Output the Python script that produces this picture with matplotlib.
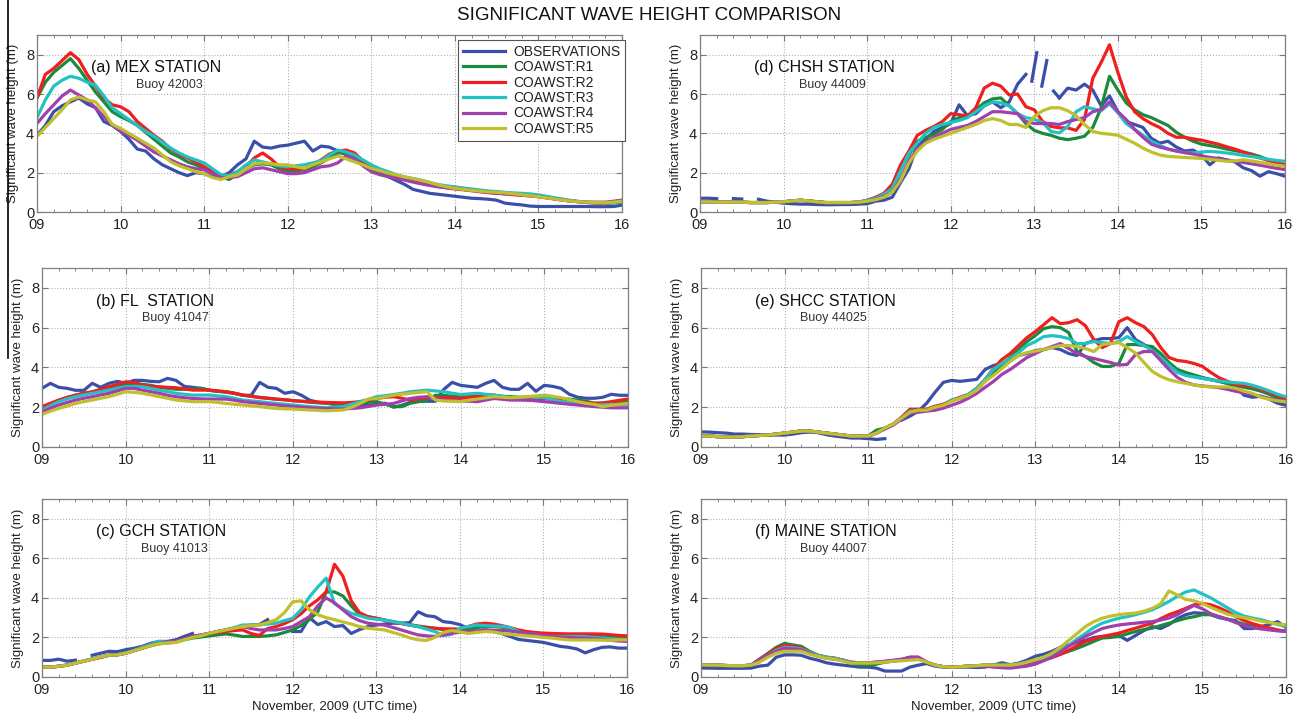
import numpy as np
import matplotlib
matplotlib.use('Agg')
import matplotlib.pyplot as plt
from matplotlib.lines import Line2D
from matplotlib.ticker import MultipleLocator

plt.rcParams['font.family'] = ['Liberation Sans', 'DejaVu Sans']

nan = np.nan
# samples every 0.1 day from 09 Nov to 16 Nov
days = np.round(np.arange(90, 161) / 10.0, 1)

# ---------------- (a) MEX STATION ----------------
a_obs = [3.9, 4.4, 5.1, 5.4, 5.6, 5.8, 5.5, 5.3, 4.6, 4.4,
         4.1, 3.7, 3.2, 3.1, 2.7, 2.4, 2.2, 2.0, 1.85, 2.0,
         1.95, 1.8, 1.8, 2.0, 2.4, 2.7, 3.6, 3.3, 3.25, 3.35,
         3.4, 3.5, 3.6, 3.1, 3.35, 3.3, 3.1, 2.9, 2.65, 2.4,
         2.15, 2.0, 1.8, 1.6, 1.4, 1.15, 1.05, 0.95, 0.9, 0.85,
         0.8, 0.75, 0.7, 0.68, 0.65, 0.6, 0.45, 0.4, 0.36, 0.3,
         0.28, 0.28, 0.28, 0.28, 0.28, 0.28, 0.28, 0.27, 0.27, 0.28,
         0.35]
a_r1 = [5.8, 6.6, 7.1, 7.45, 7.8, 7.3, 6.7, 6.1, 5.6, 5.1,
        4.85, 4.65, 4.4, 4.05, 3.7, 3.35, 3.0, 2.8, 2.55, 2.4,
        2.2, 2.0, 1.8, 1.65, 1.95, 2.2, 2.4, 2.45, 2.4, 2.2,
        2.05, 2.1, 2.15, 2.3, 2.5, 2.75, 3.0, 3.0, 2.75, 2.45,
        2.2, 2.1, 1.95, 1.85, 1.72, 1.6, 1.5, 1.42, 1.35, 1.28,
        1.22, 1.18, 1.12, 1.08, 1.03, 1.0, 0.96, 0.93, 0.9, 0.85,
        0.8, 0.75, 0.68, 0.62, 0.56, 0.52, 0.48, 0.46, 0.44, 0.46,
        0.5]
a_r2 = [5.8, 7.0, 7.3, 7.7, 8.1, 7.75, 7.0, 6.4, 5.8, 5.45,
        5.35, 5.1, 4.6, 4.25, 3.9, 3.6, 3.2, 2.95, 2.75, 2.55,
        2.3, 2.05, 1.8, 1.9, 2.05, 2.3, 2.75, 3.0, 2.7, 2.3,
        2.2, 2.2, 2.2, 2.4, 2.65, 2.95, 3.1, 3.15, 3.0, 2.6,
        2.3, 2.15, 2.0, 1.85, 1.7, 1.58, 1.47, 1.38, 1.3, 1.23,
        1.17, 1.13, 1.08, 1.03, 0.98, 0.95, 0.92, 0.88, 0.85, 0.82,
        0.78, 0.72, 0.66, 0.6, 0.55, 0.52, 0.48, 0.46, 0.45, 0.5,
        0.6]
a_r3 = [4.8, 5.7, 6.4, 6.7, 6.9, 6.8, 6.6, 6.45, 5.9, 5.3,
        5.0, 4.7, 4.4, 4.1, 3.85, 3.55, 3.25, 3.0, 2.8, 2.65,
        2.5, 2.2, 1.9, 1.85, 2.05, 2.4, 2.65, 2.55, 2.45, 2.35,
        2.3, 2.35, 2.4, 2.5, 2.6, 2.9, 3.15, 3.05, 2.9, 2.65,
        2.4, 2.2, 2.05, 1.9, 1.78, 1.7, 1.62, 1.5, 1.4, 1.33,
        1.28, 1.22, 1.17, 1.12, 1.07, 1.04, 1.0, 0.97, 0.95, 0.92,
        0.87, 0.8, 0.72, 0.65, 0.58, 0.53, 0.5, 0.48, 0.47, 0.48,
        0.52]
a_r4 = [4.5, 5.0, 5.45, 5.9, 6.2, 5.95, 5.7, 5.3, 4.85, 4.45,
        4.1, 3.9, 3.65, 3.35, 3.05, 2.85, 2.65, 2.45, 2.3, 2.2,
        2.15, 1.95, 1.75, 1.75, 1.8, 2.0, 2.2, 2.25, 2.15, 2.05,
        1.95, 1.95, 2.0, 2.15, 2.3, 2.35, 2.5, 2.85, 2.7, 2.35,
        2.05, 1.9, 1.8, 1.7, 1.62, 1.52, 1.43, 1.35, 1.28, 1.23,
        1.2, 1.15, 1.1, 1.05, 1.0, 0.96, 0.93, 0.9, 0.86, 0.82,
        0.78, 0.72, 0.66, 0.6, 0.55, 0.52, 0.5, 0.5, 0.5, 0.55,
        0.6]
a_r5 = [3.85, 4.3, 4.75, 5.2, 5.7, 5.85, 5.7, 5.6, 5.1, 4.45,
        4.25, 4.0, 3.75, 3.5, 3.25, 2.9, 2.55, 2.35, 2.2, 2.05,
        1.95, 1.75, 1.65, 1.8, 1.88, 2.2, 2.45, 2.5, 2.45, 2.4,
        2.4, 2.3, 2.22, 2.4, 2.55, 2.7, 2.85, 2.7, 2.55, 2.4,
        2.22, 2.1, 1.98, 1.88, 1.78, 1.7, 1.6, 1.5, 1.38, 1.28,
        1.2, 1.15, 1.1, 1.06, 1.02, 1.0, 0.97, 0.93, 0.88, 0.83,
        0.78, 0.72, 0.66, 0.6, 0.55, 0.52, 0.5, 0.48, 0.47, 0.5,
        0.55]

# ---------------- (b) FL STATION ----------------
b_obs = [2.95, 3.2, 3.0, 2.95, 2.85, 2.85, 3.2, 3.0, 3.2, 3.3,
         3.2, 3.35, 3.35, 3.3, 3.28, 3.45, 3.35, 3.05, 3.0, 2.95,
         2.85, 2.8, 2.78, 2.7, 2.6, 2.6, 3.25, 3.0, 2.95, 2.7,
         2.78, 2.6, 2.35, 2.25, 2.2, 2.15, 2.1, 2.1, 2.1, 2.1,
         2.15, 2.2, 2.0, 2.1, 2.25, 2.3, 2.3, 2.3, 2.9, 3.25,
         3.1, 3.05, 3.0, 3.2, 3.35, 3.0, 2.9, 2.9, 3.2, 2.8,
         3.1, 3.05, 2.95, 2.65, 2.5, 2.45, 2.45, 2.5, 2.65, 2.6,
         2.6]
b_r1 = [1.95, 2.15, 2.35, 2.45, 2.6, 2.7, 2.75, 2.85, 2.95, 3.05,
        3.15, 3.2, 3.15, 3.1, 3.0, 2.95, 2.9, 2.9, 2.9, 2.95,
        2.85, 2.8, 2.75, 2.7, 2.6, 2.55, 2.5, 2.45, 2.4, 2.38,
        2.33, 2.3, 2.25, 2.22, 2.2, 2.15, 2.12, 2.15, 2.2, 2.25,
        2.28, 2.15, 2.03, 2.03, 2.2, 2.28, 2.36, 2.6, 2.6, 2.55,
        2.53, 2.6, 2.62, 2.62, 2.6, 2.55, 2.53, 2.5, 2.45, 2.45,
        2.48, 2.45, 2.44, 2.4, 2.36, 2.3, 2.2, 2.2, 2.2, 2.25,
        2.28]
b_r2 = [2.03, 2.2, 2.36, 2.5, 2.61, 2.7, 2.78, 2.9, 3.03, 3.15,
        3.28, 3.25, 3.11, 3.05, 3.03, 3.0, 2.98, 2.92, 2.86, 2.86,
        2.86, 2.82, 2.78, 2.7, 2.61, 2.55, 2.48, 2.45, 2.41, 2.37,
        2.33, 2.3, 2.28, 2.26, 2.24, 2.23, 2.22, 2.24, 2.28, 2.36,
        2.44, 2.5, 2.53, 2.45, 2.36, 2.42, 2.48, 2.48, 2.48, 2.46,
        2.44, 2.5, 2.53, 2.58, 2.61, 2.52, 2.44, 2.4, 2.36, 2.4,
        2.44, 2.4, 2.36, 2.32, 2.28, 2.24, 2.19, 2.22, 2.28, 2.35,
        2.41]
b_r3 = [1.86, 2.08, 2.28, 2.42, 2.53, 2.62, 2.7, 2.78, 2.86, 2.95,
        3.03, 3.05, 3.03, 2.95, 2.86, 2.78, 2.7, 2.65, 2.61, 2.61,
        2.61, 2.57, 2.53, 2.45, 2.36, 2.32, 2.28, 2.23, 2.19, 2.15,
        2.11, 2.07, 2.03, 2.0, 1.97, 2.0, 2.03, 2.15, 2.28, 2.4,
        2.53, 2.58, 2.64, 2.7, 2.78, 2.82, 2.86, 2.82, 2.78, 2.7,
        2.64, 2.67, 2.7, 2.65, 2.61, 2.55, 2.48, 2.5, 2.53, 2.5,
        2.48, 2.38, 2.28, 2.25, 2.19, 2.15, 2.11, 2.12, 2.14, 2.12,
        2.11]
b_r4 = [1.77, 1.95, 2.11, 2.24, 2.36, 2.45, 2.53, 2.62, 2.7, 2.82,
        2.95, 2.95, 2.86, 2.78, 2.7, 2.6, 2.53, 2.48, 2.44, 2.42,
        2.41, 2.41, 2.41, 2.35, 2.28, 2.24, 2.19, 2.15, 2.11, 2.07,
        2.03, 2.0, 1.97, 1.95, 1.94, 1.92, 1.91, 1.94, 1.97, 2.04,
        2.11, 2.15, 2.19, 2.32, 2.44, 2.5, 2.53, 2.45, 2.36, 2.33,
        2.31, 2.3, 2.28, 2.36, 2.44, 2.4, 2.36, 2.36, 2.36, 2.32,
        2.28, 2.24, 2.19, 2.15, 2.11, 2.07, 2.03, 2.0, 1.97, 1.97,
        1.97]
b_r5 = [1.64, 1.8, 1.94, 2.06, 2.19, 2.28, 2.36, 2.45, 2.53, 2.65,
        2.78, 2.75, 2.7, 2.62, 2.53, 2.45, 2.36, 2.32, 2.28, 2.28,
        2.28, 2.24, 2.19, 2.15, 2.11, 2.07, 2.03, 1.98, 1.94, 1.92,
        1.91, 1.88, 1.86, 1.84, 1.82, 1.84, 1.86, 2.0, 2.19, 2.41,
        2.44, 2.52, 2.61, 2.65, 2.7, 2.74, 2.78, 2.36, 2.31, 2.3,
        2.28, 2.35, 2.41, 2.47, 2.53, 2.5, 2.48, 2.5, 2.53, 2.57,
        2.61, 2.55, 2.48, 2.38, 2.28, 2.2, 2.14, 2.03, 2.1, 2.15,
        2.19]

# ---------------- (c) GCH STATION ----------------
c_obs = [0.84, 0.84, 0.9, 0.8, 0.85, nan, 1.1, 1.2, 1.3, 1.28,
         1.38, 1.45, 1.55, 1.7, 1.8, 1.8, 1.88, 2.05, 2.2, nan,
         2.2, 2.3, 2.38, 2.47, 2.55, 2.63, 2.65, 2.9, nan, nan,
         2.3, 2.3, 3.0, 2.65, 2.8, 2.55, 2.6, 2.2, 2.4, 2.55,
         2.63, 2.68, 2.72, 2.72, 2.75, 3.3, 3.1, 3.05, 2.8, 2.75,
         2.65, 2.45, 2.3, 2.38, 2.3, 2.2, 2.05, 1.9, 1.85, 1.8,
         1.75, 1.65, 1.55, 1.5, 1.42, 1.22, 1.38, 1.5, 1.52, 1.46,
         1.46]
c_r1 = [0.5, 0.5, 0.54, 0.6, 0.7, 0.8, 0.9, 1.0, 1.1, 1.12,
        1.2, 1.33, 1.46, 1.58, 1.68, 1.72, 1.76, 1.88, 1.97, 2.02,
        2.08, 2.13, 2.18, 2.12, 2.05, 2.05, 2.05, 2.08, 2.13, 2.25,
        2.38, 2.6, 2.9, 3.3, 4.3, 4.3, 4.1, 3.6, 3.15, 3.05,
        2.97, 2.88, 2.8, 2.72, 2.65, 2.58, 2.52, 2.47, 2.4, 2.35,
        2.3, 2.4, 2.5, 2.55, 2.55, 2.52, 2.4, 2.25, 2.2, 2.15,
        2.13, 2.12, 2.1, 2.1, 2.09, 2.08, 2.06, 2.04, 2.0, 1.98,
        1.96]
c_r2 = [0.5, 0.5, 0.54, 0.6, 0.7, 0.8, 0.9, 1.0, 1.1, 1.12,
        1.2, 1.33, 1.46, 1.6, 1.7, 1.75, 1.8, 1.92, 2.05, 2.12,
        2.2, 2.25, 2.3, 2.35, 2.38, 2.2, 2.1, 2.45, 2.55, 2.7,
        2.9, 3.2, 3.6, 3.9, 4.3, 5.7, 5.1, 3.85, 3.25, 3.05,
        2.97, 2.88, 2.78, 2.7, 2.62, 2.55, 2.5, 2.46, 2.44, 2.43,
        2.42, 2.55, 2.68, 2.72, 2.68, 2.6, 2.5, 2.38, 2.3, 2.25,
        2.22, 2.2, 2.19, 2.18, 2.18, 2.18, 2.18, 2.17, 2.14, 2.1,
        2.08]
c_r3 = [0.5, 0.5, 0.55, 0.62, 0.72, 0.82, 0.92, 1.02, 1.1, 1.13,
        1.22, 1.35, 1.5, 1.65, 1.8, 1.75, 1.8, 1.9, 2.02, 2.1,
        2.21, 2.3, 2.38, 2.5, 2.63, 2.63, 2.63, 2.68, 2.72, 2.85,
        2.97, 3.4, 4.05, 4.55, 5.0, 3.7, 3.45, 3.22, 3.1, 2.97,
        2.92, 2.88, 2.8, 2.72, 2.62, 2.55, 2.42, 2.3, 2.1, 2.15,
        2.47, 2.55, 2.63, 2.6, 2.58, 2.56, 2.5, 2.3, 2.13, 2.1,
        2.06, 2.05, 2.05, 2.05, 2.05, 2.04, 2.0, 1.97, 1.94, 1.9,
        1.88]
c_r4 = [0.5, 0.5, 0.54, 0.6, 0.7, 0.8, 0.9, 1.0, 1.1, 1.12,
        1.2, 1.33, 1.46, 1.6, 1.7, 1.75, 1.8, 1.92, 2.05, 2.12,
        2.21, 2.3, 2.38, 2.47, 2.55, 2.45, 2.38, 2.38, 2.38, 2.45,
        2.55, 2.8, 3.05, 3.6, 4.0, 3.75, 3.4, 3.05, 2.85, 2.72,
        2.67, 2.62, 2.5, 2.38, 2.25, 2.13, 2.08, 2.05, 2.12, 2.21,
        2.26, 2.3, 2.33, 2.38, 2.36, 2.35, 2.32, 2.28, 2.21, 2.18,
        2.1, 2.05, 2.02, 2.0, 1.98, 1.96, 1.94, 1.9, 1.86, 1.82,
        1.8]
c_r5 = [0.5, 0.5, 0.54, 0.6, 0.7, 0.8, 0.9, 1.02, 1.1, 1.12,
        1.2, 1.33, 1.46, 1.58, 1.68, 1.72, 1.75, 1.88, 2.0, 2.08,
        2.21, 2.3, 2.38, 2.47, 2.55, 2.6, 2.63, 2.75, 2.89, 3.25,
        3.8, 3.85, 3.4, 3.15, 3.0, 2.9, 2.78, 2.68, 2.55, 2.47,
        2.42, 2.38, 2.25, 2.13, 1.98, 1.88, 1.85, 2.0, 2.25, 2.35,
        2.28, 2.2, 2.25, 2.3, 2.28, 2.2, 2.15, 2.12, 2.08, 2.05,
        2.0, 1.97, 1.92, 1.88, 1.87, 1.87, 1.87, 1.86, 1.86, 1.88,
        1.88]

# ---------------- (d) CHSH STATION ----------------
d_obs = [0.7, 0.7, 0.68, nan, 0.68, 0.66, nan, 0.65, 0.55, 0.5,
         0.45, 0.42, 0.4, 0.4, 0.38, 0.37, 0.37, 0.38, 0.38, 0.4,
         0.42, 0.55, 0.6, 0.75, 1.5, 2.2, 3.4, 3.7, 4.1, 4.3,
         4.5, 5.45, 4.9, 5.0, 5.4, 5.6, 5.3, 5.6, 6.5, 7.0,
         nan, nan, nan, 5.8, 6.3, 6.2, 6.5, 6.2, 5.4, 5.9,
         5.1, 4.6, 4.45, 4.3, 3.75, 3.5, 3.6, 3.3, 3.1, 3.15,
         2.9, 2.4, 2.75, 2.65, 2.55, 2.25, 2.1, 1.82, 2.05, 1.95,
         1.82]
# short gappy pieces of the buoy record around 13 Nov
d_obs_gap_t = [12.97, 13.03, nan, 13.09, 13.15, nan, 13.23, 13.3]
d_obs_gap_v = [6.65, 8.1, nan, 6.4, 7.7, nan, 6.15, 5.8]
d_r1 = [0.52, 0.52, 0.5, 0.5, 0.5, 0.5, 0.48, 0.48, 0.48, 0.5,
        0.52, 0.56, 0.6, 0.56, 0.52, 0.48, 0.48, 0.48, 0.48, 0.5,
        0.58, 0.7, 0.85, 1.1, 2.2, 2.9, 3.6, 3.8, 3.95, 4.2,
        4.6, 4.8, 4.9, 5.2, 5.55, 5.75, 5.8, 5.4, 5.0, 4.5,
        4.15, 4.0, 3.9, 3.75, 3.68, 3.75, 3.85, 4.3, 5.3, 6.9,
        6.2, 5.55, 5.2, 4.95, 4.8, 4.6, 4.4, 4.05, 3.8, 3.6,
        3.45, 3.38, 3.3, 3.2, 3.12, 3.05, 2.95, 2.82, 2.65, 2.5,
        2.33]
d_r2 = [0.52, 0.52, 0.5, 0.5, 0.5, 0.5, 0.48, 0.48, 0.48, 0.5,
        0.52, 0.56, 0.6, 0.56, 0.52, 0.48, 0.48, 0.48, 0.48, 0.5,
        0.6, 0.75, 0.95, 1.4, 2.4, 3.1, 3.9, 4.15, 4.35, 4.6,
        5.0, 4.95, 4.87, 5.3, 6.3, 6.55, 6.4, 5.95, 6.0, 5.35,
        5.2, 4.6, 4.35, 4.28, 4.28, 4.15, 4.7, 6.8, 7.6, 8.5,
        7.1, 5.85, 5.1, 4.75, 4.5, 4.3, 4.0, 3.8, 3.8, 3.72,
        3.65, 3.55, 3.45, 3.32, 3.2, 3.05, 2.9, 2.75, 2.62, 2.5,
        2.41]
d_r3 = [0.52, 0.52, 0.5, 0.5, 0.5, 0.5, 0.48, 0.48, 0.48, 0.5,
        0.52, 0.56, 0.6, 0.56, 0.52, 0.48, 0.48, 0.48, 0.48, 0.5,
        0.6, 0.7, 0.9, 1.2, 2.1, 3.0, 3.5, 4.0, 4.3, 4.45,
        4.55, 4.65, 4.8, 5.1, 5.4, 5.6, 5.55, 5.4, 5.0, 4.8,
        4.72, 4.55, 4.1, 4.02, 4.35, 5.1, 5.35, 5.25, 5.15, 5.5,
        5.05, 4.5, 4.2, 3.9, 3.6, 3.4, 3.2, 3.1, 3.02, 3.0,
        3.05, 3.08, 3.05, 3.0, 2.95, 2.88, 2.82, 2.75, 2.68, 2.62,
        2.58]
d_r4 = [0.52, 0.52, 0.5, 0.5, 0.5, 0.5, 0.48, 0.48, 0.48, 0.5,
        0.52, 0.56, 0.6, 0.56, 0.52, 0.48, 0.48, 0.48, 0.48, 0.5,
        0.55, 0.65, 0.8, 1.0, 1.7, 2.6, 3.2, 3.55, 3.8, 4.0,
        4.2, 4.3, 4.4, 4.6, 4.85, 5.1, 5.1, 5.05, 5.0, 4.6,
        4.5, 4.5, 4.5, 4.45, 4.6, 4.7, 4.8, 5.1, 5.2, 5.6,
        5.1, 4.7, 4.2, 3.8, 3.45, 3.3, 3.2, 3.1, 3.02, 2.95,
        2.85, 2.78, 2.72, 2.65, 2.58, 2.52, 2.45, 2.38, 2.3, 2.22,
        2.16]
d_r5 = [0.52, 0.52, 0.5, 0.5, 0.5, 0.5, 0.48, 0.48, 0.48, 0.5,
        0.52, 0.56, 0.6, 0.56, 0.52, 0.48, 0.48, 0.48, 0.48, 0.5,
        0.55, 0.62, 0.75, 1.0, 1.6, 2.5, 3.1, 3.5, 3.7, 3.85,
        4.0, 4.15, 4.3, 4.45, 4.65, 4.75, 4.65, 4.45, 4.45, 4.3,
        4.85, 5.15, 5.3, 5.3, 5.15, 4.9, 4.45, 4.1, 4.0, 3.96,
        3.9, 3.7, 3.5, 3.25, 3.05, 2.9, 2.83, 2.8, 2.77, 2.75,
        2.72, 2.68, 2.63, 2.58, 2.6, 2.65, 2.6, 2.52, 2.45, 2.38,
        2.33]

# ---------------- (e) SHCC STATION ----------------
e_obs = [0.76, 0.75, 0.72, 0.7, 0.65, 0.65, 0.63, 0.62, 0.6, 0.6,
         0.6, 0.65, 0.72, 0.75, 0.72, 0.62, 0.55, 0.5, 0.45, 0.45,
         0.42, 0.38, 0.42, nan, 1.35, 1.55, 1.8, 2.2, 2.75, 3.25,
         3.35, 3.3, 3.35, 3.4, 3.9, 4.1, 4.2, 4.35, 4.6, 4.7,
         4.85, 4.9, 5.0, 4.9, 4.7, 4.6, 5.2, 5.35, 5.45, 5.45,
         5.5, 6.0, 5.4, 5.15, 4.9, 4.5, 4.15, 3.85, 3.65, 3.55,
         3.45, 3.4, 3.3, 3.2, 3.0, 2.6, 2.5, 2.55, 2.4, 2.2,
         2.1]
e_r1 = [0.55, 0.55, 0.52, 0.5, 0.5, 0.52, 0.55, 0.58, 0.6, 0.65,
        0.7, 0.75, 0.8, 0.8, 0.75, 0.7, 0.65, 0.6, 0.55, 0.55,
        0.55, 0.85, 0.95, 1.15, 1.45, 1.75, 1.85, 1.85, 2.0, 2.1,
        2.35, 2.45, 2.6, 2.9, 3.3, 3.75, 4.15, 4.5, 4.9, 5.3,
        5.6, 5.95, 6.05, 6.0, 5.75, 4.8, 4.55, 4.25, 4.05, 4.05,
        4.2, 5.15, 5.15, 5.1, 5.05, 4.7, 4.25, 3.9, 3.75, 3.62,
        3.5, 3.38, 3.3, 3.2, 3.08, 3.0, 2.92, 2.8, 2.65, 2.45,
        2.27]
e_r2 = [0.55, 0.55, 0.52, 0.5, 0.5, 0.52, 0.55, 0.58, 0.6, 0.65,
        0.7, 0.75, 0.82, 0.8, 0.75, 0.7, 0.65, 0.6, 0.55, 0.55,
        0.55, 0.7, 0.95, 1.15, 1.5, 1.9, 1.9, 1.9, 2.05, 2.15,
        2.35, 2.5, 2.65, 2.95, 3.4, 3.95, 4.4, 4.7, 5.1, 5.5,
        5.8, 6.15, 6.5, 6.2, 6.25, 6.4, 6.1, 5.4, 5.0, 5.2,
        6.3, 6.5, 6.25, 6.05, 5.65, 5.0, 4.5, 4.35, 4.3, 4.2,
        4.05, 3.75, 3.48, 3.3, 3.15, 3.08, 3.05, 2.9, 2.75, 2.58,
        2.43]
e_r3 = [0.55, 0.55, 0.52, 0.5, 0.5, 0.52, 0.55, 0.58, 0.6, 0.65,
        0.7, 0.75, 0.8, 0.8, 0.75, 0.7, 0.65, 0.6, 0.55, 0.55,
        0.55, 0.7, 0.95, 1.15, 1.45, 1.8, 1.85, 1.85, 2.0, 2.1,
        2.35, 2.45, 2.65, 2.95, 3.4, 3.9, 4.2, 4.45, 4.75, 5.1,
        5.3, 5.55, 5.6, 5.55, 5.45, 5.2, 5.2, 5.3, 5.25, 5.2,
        5.3, 5.55, 5.3, 5.1, 4.85, 4.5, 4.1, 3.75, 3.6, 3.52,
        3.45, 3.38, 3.32, 3.27, 3.23, 3.2, 3.1, 2.97, 2.82, 2.65,
        2.52]
e_r4 = [0.55, 0.55, 0.52, 0.5, 0.5, 0.52, 0.55, 0.58, 0.6, 0.65,
        0.7, 0.75, 0.8, 0.8, 0.75, 0.7, 0.65, 0.6, 0.55, 0.55,
        0.55, 0.7, 0.9, 1.1, 1.4, 1.7, 1.75, 1.8, 1.85, 1.95,
        2.1, 2.25, 2.45, 2.7, 3.0, 3.3, 3.65, 3.9, 4.2, 4.5,
        4.7, 4.9, 5.05, 5.2, 4.95, 4.7, 4.55, 4.45, 4.35, 4.25,
        4.12, 4.15, 4.65, 4.8, 4.8, 4.35, 3.9, 3.5, 3.25, 3.12,
        3.07, 3.03, 2.98, 2.9, 2.8, 2.72, 2.65, 2.55, 2.45, 2.35,
        2.27]
e_r5 = [0.55, 0.55, 0.52, 0.5, 0.5, 0.52, 0.55, 0.58, 0.6, 0.65,
        0.7, 0.75, 0.8, 0.8, 0.75, 0.7, 0.65, 0.6, 0.55, 0.55,
        0.55, 0.7, 0.95, 1.15, 1.45, 1.75, 1.85, 1.85, 2.0, 2.1,
        2.3, 2.45, 2.6, 2.85, 3.3, 3.6, 3.95, 4.3, 4.6, 4.75,
        4.82, 4.9, 5.0, 5.1, 5.1, 5.05, 4.95, 4.8, 5.15, 5.2,
        5.25, 5.0, 4.72, 4.25, 3.8, 3.55, 3.38, 3.28, 3.2, 3.12,
        3.05, 3.02, 3.02, 3.02, 2.95, 2.8, 2.7, 2.5, 2.4, 2.32,
        2.27]

# ---------------- (f) MAINE STATION ----------------
f_obs = [0.45, 0.45, 0.44, 0.44, 0.44, 0.44, 0.45, 0.55, 0.6, 1.0,
         1.12, 1.12, 1.1, 0.95, 0.85, 0.72, 0.65, 0.6, 0.55, 0.5,
         0.5, 0.45, 0.3, 0.3, 0.3, 0.5, 0.6, 0.68, 0.55, 0.5,
         0.5, 0.5, 0.5, 0.48, 0.5, 0.6, 0.72, 0.62, 0.7, 0.85,
         1.05, 1.15, 1.3, 1.5, 1.62, 1.75, 1.85, 2.0, 2.05, 2.05,
         2.1, 1.85, 2.1, 2.35, 2.55, 2.45, 2.65, 2.95, 3.15, 3.25,
         3.22, 3.15, 3.0, 2.92, 2.85, 2.45, 2.45, 2.55, 2.65, 2.8,
         2.5]
f_r1 = [0.62, 0.6, 0.6, 0.58, 0.57, 0.57, 0.6, 0.9, 1.2, 1.5,
        1.7, 1.62, 1.55, 1.3, 1.1, 1.0, 0.95, 0.85, 0.7, 0.6,
        0.58, 0.65, 0.75, 0.8, 0.85, 0.95, 0.95, 0.75, 0.6, 0.52,
        0.5, 0.52, 0.55, 0.57, 0.6, 0.6, 0.6, 0.6, 0.62, 0.7,
        0.8, 0.9, 1.0, 1.15, 1.3, 1.45, 1.62, 1.8, 1.97, 2.0,
        2.05, 2.18, 2.3, 2.4, 2.47, 2.6, 2.72, 2.85, 2.97, 3.05,
        3.15, 3.15, 3.05, 2.92, 2.8, 2.67, 2.58, 2.5, 2.42, 2.36,
        2.31]
f_r2 = [0.62, 0.6, 0.6, 0.58, 0.57, 0.57, 0.6, 0.9, 1.15, 1.45,
        1.6, 1.55, 1.48, 1.25, 1.1, 1.0, 0.95, 0.85, 0.75, 0.72,
        0.72, 0.75, 0.78, 0.82, 0.88, 1.0, 1.0, 0.75, 0.6, 0.52,
        0.5, 0.52, 0.55, 0.57, 0.6, 0.6, 0.6, 0.6, 0.62, 0.7,
        0.8, 0.88, 0.98, 1.15, 1.35, 1.58, 1.8, 1.93, 2.05, 2.13,
        2.22, 2.35, 2.47, 2.6, 2.72, 2.95, 3.15, 3.3, 3.47, 3.65,
        3.72, 3.65, 3.5, 3.3, 3.05, 2.85, 2.7, 2.58, 2.48, 2.38,
        2.31]
f_r3 = [0.62, 0.6, 0.6, 0.58, 0.57, 0.57, 0.6, 0.85, 1.1, 1.35,
        1.5, 1.48, 1.42, 1.25, 1.1, 1.0, 0.95, 0.85, 0.75, 0.72,
        0.72, 0.75, 0.78, 0.82, 0.85, 0.95, 0.95, 0.75, 0.6, 0.52,
        0.5, 0.52, 0.55, 0.57, 0.6, 0.6, 0.6, 0.6, 0.65, 0.75,
        0.85, 0.95, 1.1, 1.35, 1.6, 1.92, 2.2, 2.5, 2.72, 2.85,
        2.97, 3.05, 3.15, 3.27, 3.4, 3.6, 3.82, 4.08, 4.3, 4.4,
        4.2, 4.0, 3.75, 3.5, 3.25, 3.08, 2.98, 2.9, 2.78, 2.65,
        2.56]
f_r4 = [0.62, 0.6, 0.6, 0.58, 0.57, 0.57, 0.6, 0.85, 1.1, 1.3,
        1.45, 1.42, 1.38, 1.2, 1.05, 0.95, 0.9, 0.82, 0.72, 0.7,
        0.7, 0.75, 0.8, 0.85, 0.9, 1.0, 1.0, 0.75, 0.6, 0.52,
        0.5, 0.52, 0.55, 0.55, 0.55, 0.5, 0.47, 0.45, 0.5, 0.55,
        0.65, 0.82, 1.0, 1.28, 1.55, 1.8, 2.05, 2.25, 2.45, 2.55,
        2.63, 2.68, 2.72, 2.77, 2.8, 2.88, 2.98, 3.15, 3.4, 3.62,
        3.45, 3.2, 3.05, 2.92, 2.75, 2.6, 2.5, 2.43, 2.38, 2.33,
        2.31]
f_r5 = [0.62, 0.6, 0.6, 0.58, 0.57, 0.57, 0.6, 0.75, 1.0, 1.2,
        1.3, 1.3, 1.3, 1.15, 1.05, 0.95, 0.9, 0.8, 0.7, 0.7,
        0.7, 0.72, 0.75, 0.8, 0.82, 0.85, 0.88, 0.75, 0.6, 0.52,
        0.5, 0.52, 0.55, 0.57, 0.6, 0.6, 0.6, 0.6, 0.65, 0.75,
        0.88, 1.0, 1.2, 1.5, 1.85, 2.2, 2.55, 2.8, 2.97, 3.08,
        3.15, 3.2, 3.23, 3.33, 3.47, 3.7, 4.35, 4.15, 3.92, 3.85,
        3.72, 3.52, 3.35, 3.18, 3.07, 3.0, 2.93, 2.83, 2.75, 2.68,
        2.64]

series_names = ['OBSERVATIONS', 'COAWST:R1', 'COAWST:R2',
                'COAWST:R3', 'COAWST:R4', 'COAWST:R5']
series_colors = ['#3a50a8', '#1c8a3c', '#f01e1e', '#22c2c4', '#a23fae', '#c0bf2c']

station_titles = ['(a) MEX STATION', '(b) FL  STATION', '(c) GCH STATION',
                  '(d) CHSH STATION', '(e) SHCC STATION', '(f) MAINE STATION']
buoy_names = ['Buoy 42003', 'Buoy 41047', 'Buoy 41013',
              'Buoy 44009', 'Buoy 44025', 'Buoy 44007']
station_data = [
    [a_obs, a_r1, a_r2, a_r3, a_r4, a_r5],
    [b_obs, b_r1, b_r2, b_r3, b_r4, b_r5],
    [c_obs, c_r1, c_r2, c_r3, c_r4, c_r5],
    [d_obs, d_r1, d_r2, d_r3, d_r4, d_r5],
    [e_obs, e_r1, e_r2, e_r3, e_r4, e_r5],
    [f_obs, f_r1, f_r2, f_r3, f_r4, f_r5],
]
x_ticklabels = ['09', '10', '11', '12', '13', '14', '15', '16']

W, H = 1299, 716
# axes boxes in pixels: left, top, right, bottom
boxes = [(37, 35, 622, 212), (42, 268, 628, 447), (42, 499, 627, 677),
         (700, 35, 1285, 212), (701, 268, 1286, 447), (701, 499, 1286, 677)]

fig = plt.figure(figsize=(W / 100, H / 100), dpi=100)

for k in range(6):
    l, t, r, b = boxes[k]
    ax = fig.add_axes([l / W, 1 - b / H, (r - l) / W, (b - t) / H])
    for j in range(6):
        ax.plot(days, station_data[k][j], color=series_colors[j], lw=2.3,
                label=series_names[j])
    if k == 3:
        ax.plot(d_obs_gap_t, d_obs_gap_v, color=series_colors[0], lw=2.3)

    ax.set_xlim(9, 16)
    ax.set_ylim(0, 9)
    ax.set_xticks(range(9, 17))
    ax.set_xticklabels(x_ticklabels)
    ax.xaxis.set_minor_locator(MultipleLocator(0.2))
    ax.set_yticks([0, 2, 4, 6, 8])
    ax.tick_params(which='both', direction='in', top=True, right=True,
                   colors='#777777', labelcolor='#222222', labelsize=10.5)
    ax.tick_params(which='major', length=4, pad=2)
    ax.tick_params(axis='x', which='major', pad=4.5)
    ax.tick_params(which='minor', length=2.5)
    ax.grid(True, which='major', linestyle=':', color='#b0b0b0', lw=0.8)
    for s in ax.spines.values():
        s.set_color('#808080')
        s.set_linewidth(0.9)
    ax.set_ylabel('Significant wave height (m)', fontsize=9.5, color='#222222')
    ax.yaxis.set_label_coords(-0.031, 0.5)

    ax.text(0.093, 0.815, station_titles[k], transform=ax.transAxes,
            fontsize=11.5, color='#111111', va='center', ha='left')
    ax.text(0.17, 0.72, buoy_names[k], transform=ax.transAxes,
            fontsize=9, color='#333333', va='center', ha='left')

    if k == 0:
        leg = ax.legend(loc='upper right', bbox_to_anchor=(1.005, 0.972),
                        borderaxespad=0, fontsize=10, handlelength=3.0,
                        labelspacing=0.1, handletextpad=0.6, borderpad=0.35,
                        fancybox=False, framealpha=1, edgecolor='#555555')
        leg.get_frame().set_linewidth(0.8)
        for txt in leg.get_texts():
            txt.set_color('#222222')
    if k in (2, 5):
        ax.set_xlabel('November, 2009 (UTC time)', fontsize=9.5,
                      color='#222222', labelpad=3)

fig.text(0.5, 1 - 15 / H, 'SIGNIFICANT WAVE HEIGHT COMPARISON',
         ha='center', va='center', fontsize=13.5, color='#111111')
fig.add_artist(Line2D([8 / W, 8 / W], [1.0, 1 - 358 / H], color='black', lw=1.2))

fig.savefig('out.png', dpi=100)
